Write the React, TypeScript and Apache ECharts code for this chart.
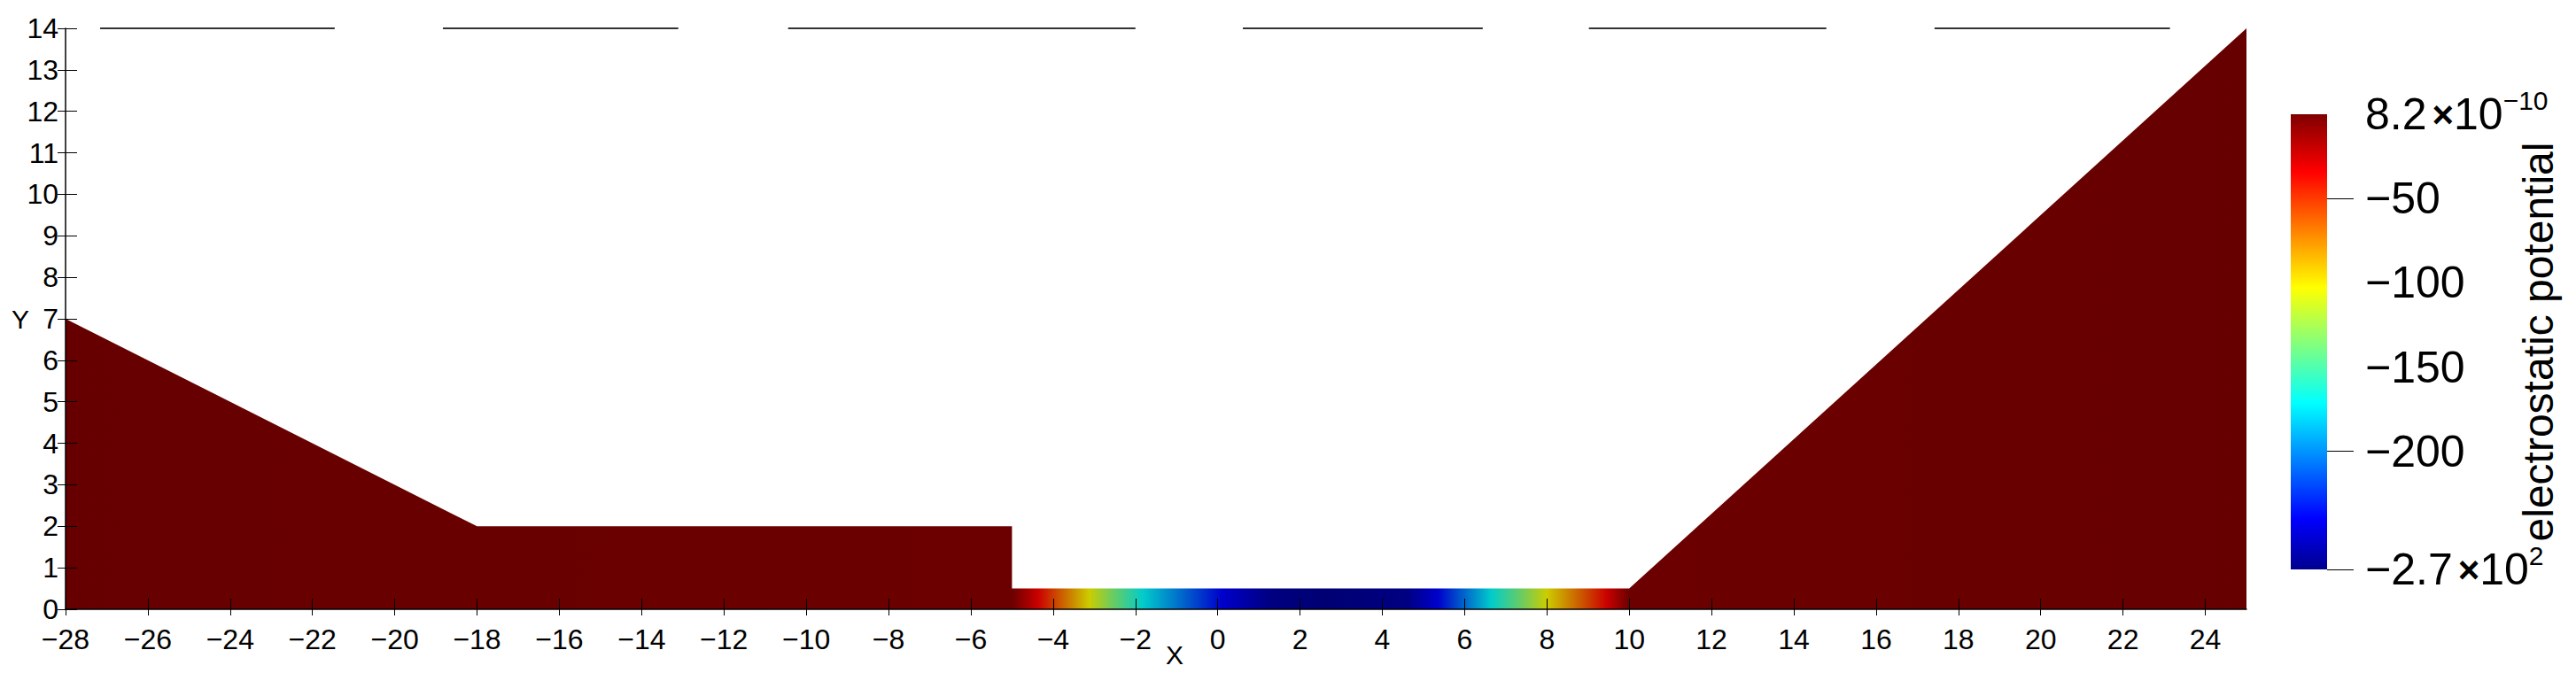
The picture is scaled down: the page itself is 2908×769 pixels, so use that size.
import React, { useEffect, useRef } from "react";
import * as echarts from "echarts";

// ---- data ----
const xTicks = [-28, -26, -24, -22, -20, -18, -16, -14, -12, -10, -8, -6, -4, -2, 0, 2, 4, 6, 8, 10, 12, 14, 16, 18, 20, 22, 24];
const yTicks = [0, 1, 2, 3, 4, 5, 6, 7, 8, 9, 10, 11, 12, 13, 14];

// outline of the domain (top boundary, filled down to y = 0)
const outlineX = [-28, -18, -5, -5, 10, 25];
const outlineY = [7, 2, 2, 0.5, 0.5, 14];

// electrostatic potential along the thin channel (-5 .. 10)
const stripX = [-5, -4.36, -3.12, -2.52, -1.82, 0.1, 1.25, 2.6, 4.6, 5.35, 6.65, 7.35, 8.0, 9.45, 10];
const stripPotential = [-2, -34, -103, -137, -171, -240, -265, -270, -265, -240, -171, -137, -103, -34, -2];

// colour bar
const colorMin = -270;
const colorMax = 8.2e-10;
const colorbarLabelValues = [-270, -200, -150, -100, -50, 0];
const colorbarTickValues = [-270, -200, -50];

// top edge of the bounding box, drawn in dashes
const topEdgeY = 14;
const topEdgeDashStart = [-27.16, -18.83, -10.44, 0.61, 9.02, 17.42];
const topEdgeDashEnd = [-21.46, -13.11, -2.0, 6.44, 14.79, 23.14];

// ParaView "Jet" colour map
const jetPos = [0, 0.1111, 0.3651, 0.4921, 0.619, 0.873, 1];
const jetR = [0, 0, 0, 0.5, 1, 1, 0.5];
const jetG = [0, 0, 1, 1, 1, 0, 0];
const jetB = [0.5625, 1, 1, 0.5, 0, 0, 0];

const FONT = "Liberation Sans, Arial, sans-serif";
const SHADE = 0.8;

function jet(f: number): number[] {
  const t = Math.max(0, Math.min(1, f));
  for (let i = 0; i < jetPos.length - 1; i++) {
    if (t <= jetPos[i + 1]) {
      const u = (t - jetPos[i]) / (jetPos[i + 1] - jetPos[i]);
      return [
        jetR[i] + (jetR[i + 1] - jetR[i]) * u,
        jetG[i] + (jetG[i + 1] - jetG[i]) * u,
        jetB[i] + (jetB[i + 1] - jetB[i]) * u,
      ];
    }
  }
  return [jetR[6], jetG[6], jetB[6]];
}
function rgb(c: number[], k: number) {
  return `rgb(${Math.round(c[0] * 255 * k)},${Math.round(c[1] * 255 * k)},${Math.round(c[2] * 255 * k)})`;
}
const frac = (v: number) => (v - colorMin) / (colorMax - colorMin);
const fmt = (v: number) => (v < 0 ? "\u2212" + Math.abs(v) : String(v));

export default function App() {
  const ref = useRef<HTMLDivElement>(null);
  useEffect(() => {
    if (!ref.current) return;
    const chart = echarts.init(ref.current, undefined, { renderer: "svg" });

    const xMin = Math.min(...outlineX);
    const xMax = Math.max(...outlineX);
    const span = xMax - xMin;
    const stops: { offset: number; color: string }[] = [{ offset: 0, color: rgb(jet(1), SHADE) }];
    stripX.forEach((x, i) => {
      stops.push({ offset: (x - xMin) / span, color: rgb(jet(frac(stripPotential[i])), SHADE) });
    });
    stops.push({ offset: 1, color: rgb(jet(1), SHADE) });
    const areaFill = new echarts.graphic.LinearGradient(0, 0, 1, 0, stops);

    const barStops = jetPos
      .map((p, i) => ({ offset: 1 - p, color: rgb([jetR[i], jetG[i], jetB[i]], 1) }))
      .sort((a, b) => a.offset - b.offset);
    const barFill = new echarts.graphic.LinearGradient(0, 0, 0, 1, barStops);

    const axisText = { fontFamily: FONT, fontSize: 32, color: "#000" };
    const cbRich = {
      n: { fontFamily: FONT, fontSize: 50, color: "#000", lineHeight: 62 },
      x: { fontFamily: FONT, fontSize: 42, fontWeight: "bold", color: "#000", lineHeight: 62, padding: [0, 0, 0, 6] },
      s: { fontFamily: FONT, fontSize: 30, color: "#000", lineHeight: 30, verticalAlign: "top" },
    };

    chart.setOption({
      animation: false,
      backgroundColor: "#fff",
      grid: [
        { left: 74, right: 372, top: 32, bottom: 81, outerBoundsMode: "none" },
        { left: 2586, width: 41, top: 129, height: 514, outerBoundsMode: "none" },
      ],
      xAxis: [
        {
          type: "value",
          gridIndex: 0,
          position: "bottom",
          min: -28,
          max: 25,
          interval: 2,
          z: 5,
          name: "X",
          nameLocation: "middle",
          nameGap: 36,
          nameMoveOverlap: false,
          nameTextStyle: { fontFamily: FONT, fontSize: 30, color: "#000", padding: [0, 0, 0, 42] },
          splitLine: { show: false },
          axisLine: { show: true, onZero: false, lineStyle: { color: "#000", width: 1.5 } },
          axisTick: { show: true, inside: true, length: 12, customValues: xTicks, lineStyle: { color: "#000", width: 1 } },
          axisLabel: { customValues: xTicks, formatter: fmt, margin: 18, ...axisText },
        },
        {
          type: "value",
          gridIndex: 0,
          position: "bottom",
          offset: 0,
          min: -28,
          max: 25,
          interval: 2,
          z: 5,
          splitLine: { show: false },
          axisLine: { show: false, onZero: false },
          axisTick: { show: true, inside: false, length: 7, customValues: xTicks, lineStyle: { color: "#000", width: 1 } },
          axisLabel: { show: false },
        },
        {
          type: "category",
          gridIndex: 1,
          data: ["bar"],
          show: false,
        },
      ],
      yAxis: [
        {
          type: "value",
          gridIndex: 0,
          position: "left",
          min: 0,
          max: 14,
          interval: 1,
          z: 5,
          name: "Y",
          nameLocation: "middle",
          nameRotate: 0,
          nameGap: 41,
          nameMoveOverlap: false,
          nameTextStyle: { fontFamily: FONT, fontSize: 30, color: "#000" },
          splitLine: { show: false },
          axisLine: { show: true, onZero: false, lineStyle: { color: "#000", width: 1.5 } },
          axisTick: { show: true, inside: true, length: 13, customValues: yTicks, lineStyle: { color: "#000", width: 1 } },
          axisLabel: { customValues: yTicks, formatter: fmt, margin: 8, ...axisText },
        },
        {
          type: "value",
          gridIndex: 0,
          position: "left",
          offset: 0,
          min: 0,
          max: 14,
          interval: 1,
          z: 5,
          splitLine: { show: false },
          axisLine: { show: false, onZero: false },
          axisTick: { show: true, inside: false, length: 9, customValues: yTicks, lineStyle: { color: "#000", width: 1 } },
          axisLabel: { show: false },
        },
        {
          type: "value",
          gridIndex: 1,
          position: "right",
          min: colorMin,
          max: 0,
          name: "electrostatic potential",
          nameLocation: "middle",
          nameRotate: 90,
          nameGap: 214,
          nameMoveOverlap: false,
          nameTextStyle: { fontFamily: FONT, fontSize: 48, color: "#000" },
          splitLine: { show: false },
          axisLine: { show: false, onZero: false },
          axisTick: { show: true, length: 30, customValues: colorbarTickValues, lineStyle: { color: "#000", width: 1 } },
          axisLabel: {
            customValues: colorbarLabelValues,
            margin: 43,
            rich: cbRich,
            formatter: (v: number) => {
              if (v === 0) return "{n|8.2}{x|\u00d7}{n|10}{s|\u221210}";
              if (v === colorMin) return "{n|\u22122.7}{x|\u00d7}{n|10}{s|2}";
              return "{n|" + fmt(v) + "}";
            },
          },
        },
      ],
      series: [
        {
          type: "line",
          xAxisIndex: 0,
          yAxisIndex: 0,
          data: outlineX.map((x, i) => [x, outlineY[i]]),
          showSymbol: false,
          symbol: "none",
          lineStyle: { width: 0, opacity: 0 },
          areaStyle: { color: areaFill, opacity: 1 },
          z: 2,
        },
        {
          type: "lines",
          coordinateSystem: "cartesian2d",
          xAxisIndex: 0,
          yAxisIndex: 0,
          data: topEdgeDashStart.map((x0, i) => ({
            coords: [
              [x0, topEdgeY],
              [topEdgeDashEnd[i], topEdgeY],
            ],
          })),
          lineStyle: { color: "#333", width: 2, opacity: 1 },
          z: 3,
        },
        {
          type: "bar",
          xAxisIndex: 2,
          yAxisIndex: 2,
          data: [colorMin],
          barWidth: "100%",
          itemStyle: { color: barFill },
        },
      ],
    });
    return () => chart.dispose();
  }, []);
  return <div ref={ref} style={{ position: "fixed", left: 0, top: 0, width: 2908, height: 769 }} />;
}
